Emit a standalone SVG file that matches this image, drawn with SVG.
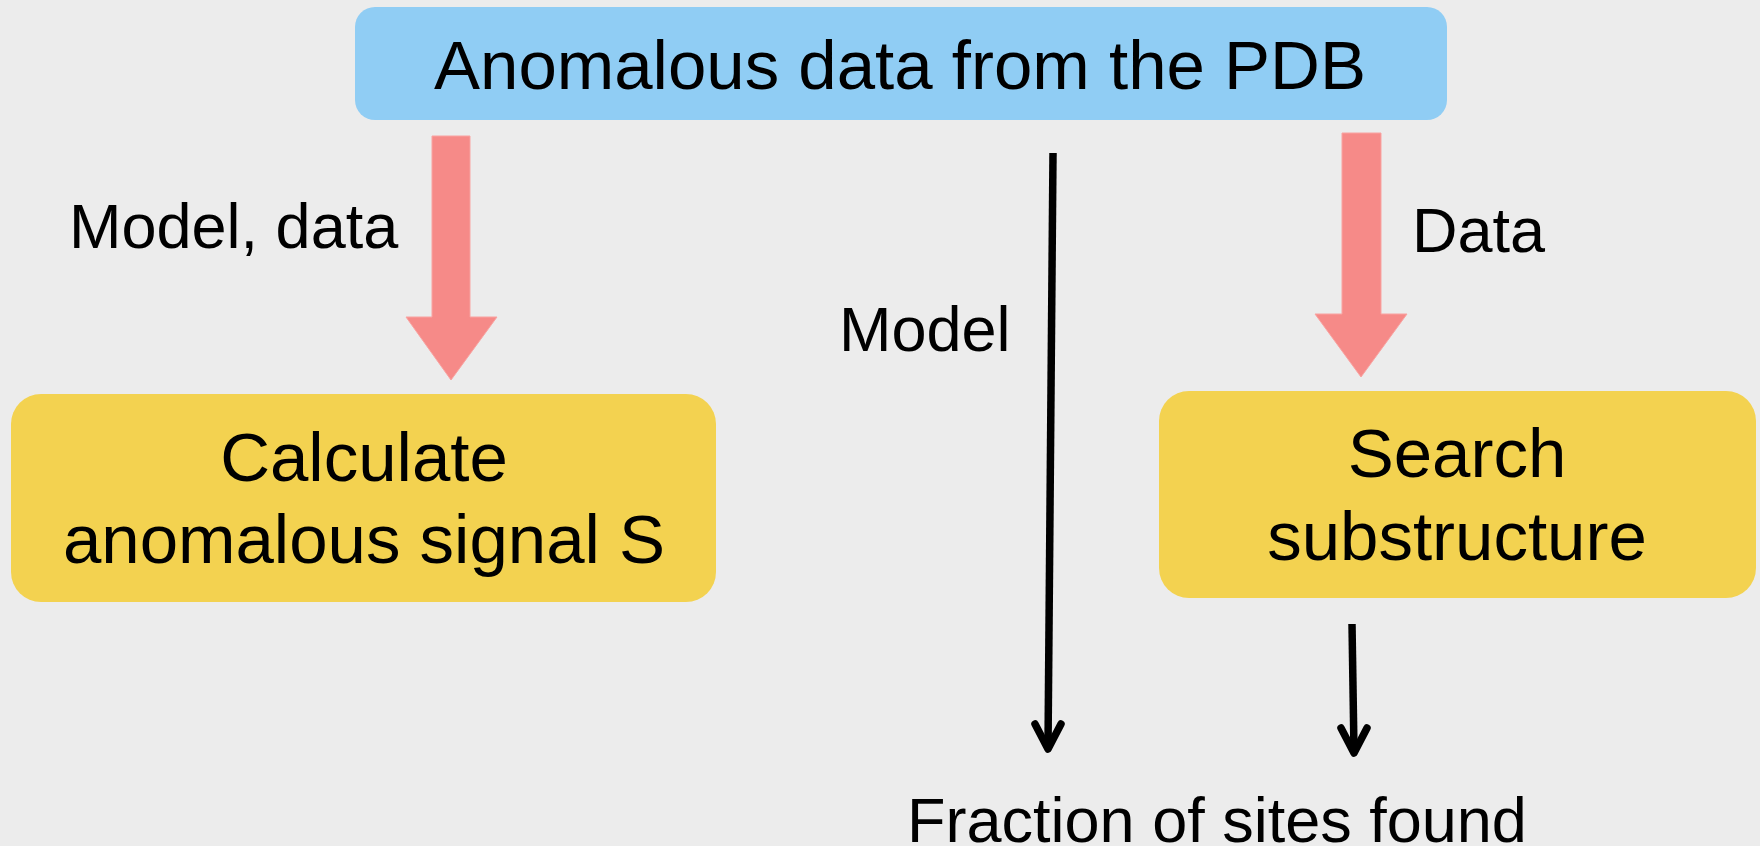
<svg xmlns="http://www.w3.org/2000/svg" width="1760" height="846" viewBox="0 0 1760 846">
<style>
  .bg { fill: #ECECEC; }
  .title-box { fill: #90CDF4; }
  .step-box { fill: #F3D250; }
  .fat-arrow { fill: #F68A88; stroke: #F9A3A1; stroke-width: 1; }
  .thin { fill: none; stroke: #000; stroke-width: 7.5; }
  .head { fill: none; stroke: #000; stroke-width: 7.5; stroke-linecap: round; stroke-linejoin: round; }
  .t { font-family: "Liberation Sans", Arial, sans-serif; fill: #000; }
  .big { font-size: 69px; text-anchor: middle; }
  .lbl { font-size: 63px; }
</style>
<rect class="bg" x="0" y="0" width="1760" height="846"/>
<g id="node-pdb">
  <rect class="title-box" x="355" y="7" width="1092" height="113" rx="20"/>
  <text class="t big" x="900" y="89">Anomalous data from the PDB</text>
</g>
<g id="node-calc">
  <rect class="step-box" x="11" y="394" width="705" height="208" rx="30"/>
  <text class="t big" x="364" y="481">Calculate</text>
  <text class="t big" x="364" y="563">anomalous signal S</text>
</g>
<g id="node-search">
  <rect class="step-box" x="1159" y="391" width="597" height="207" rx="30"/>
  <text class="t big" x="1457" y="477">Search</text>
  <text class="t big" x="1457" y="560">substructure</text>
</g>
<g id="node-fraction">
  <text class="t lbl" x="1217" y="842" text-anchor="middle">Fraction of sites found</text>
</g>
<g id="connectors">
  <polygon class="fat-arrow" points="432,136 470,136 470,317 497,317 451,380 406,317 432,317"/>
  <text class="t lbl" x="69" y="248">Model, data</text>
  <polygon class="fat-arrow" points="1342,133 1381,133 1381,314 1407,314 1361,377 1315,314 1342,314"/>
  <text class="t lbl" x="1412" y="252">Data</text>
  <line class="thin" x1="1053" y1="153" x2="1048" y2="747"/>
  <path class="head" d="M1035,724 L1048,749 L1061,724"/>
  <text class="t lbl" x="839" y="351">Model</text>
  <line class="thin" x1="1352" y1="624" x2="1354" y2="751"/>
  <path class="head" d="M1341,728 L1354,753 L1367,728"/>
</g>
</svg>
